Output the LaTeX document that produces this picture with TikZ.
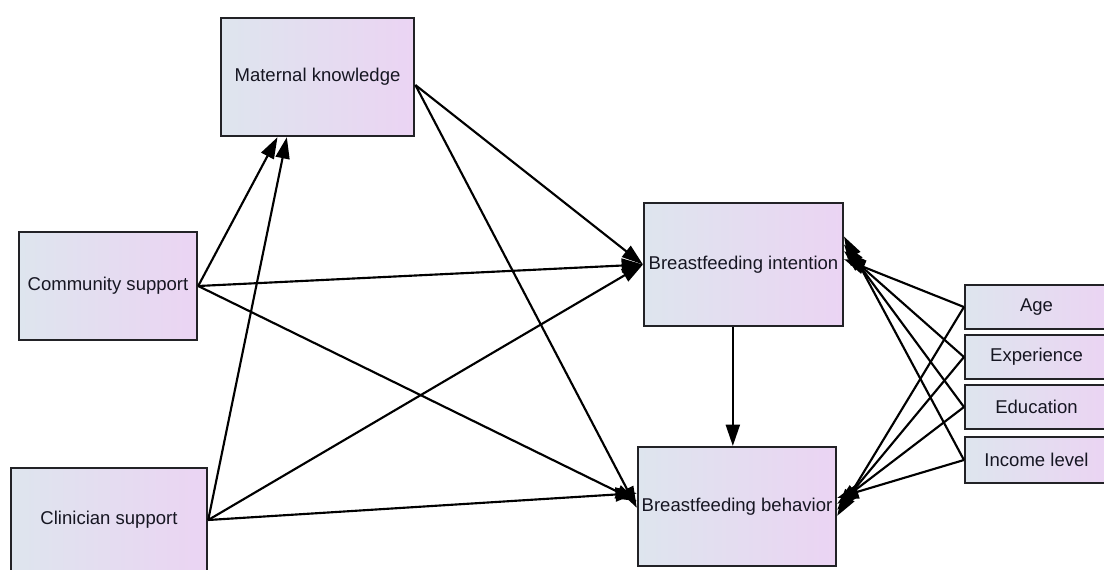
\documentclass[tikz,border=0pt]{standalone}
\usepackage{fontspec}
\setmainfont{Liberation Sans}
\usetikzlibrary{arrows.meta}

\definecolor{boxleft}{RGB}{222,229,238}
\definecolor{boxright}{RGB}{235,212,243}
\definecolor{boxline}{RGB}{34,34,38}
\definecolor{boxtext}{RGB}{22,22,34}

\tikzset{every picture/.style={line width=0.75pt}}
\tikzset{
  varbox/.style={draw=boxline, line width=1.8pt, left color=boxleft, right color=boxright,
    text=boxtext, font=\fontsize{13.9}{16}\selectfont, inner sep=0pt, anchor=center},
  covbox/.style={varbox, minimum width=107pt, minimum height=33pt},
  effect/.style={-{Triangle[length=16pt,width=10.5pt]}, line width=1.6pt, black}
}

\begin{document}
\begin{tikzpicture}[x=0.75pt,y=0.75pt,yscale=-1,xscale=1]
\useasboundingbox (0,0) rectangle (1104,569);

%Shape: Rectangle [id:mk]
\node [varbox, minimum width=145pt, minimum height=88.5pt] (mk) at (317.5,77) {Maternal knowledge};
%Shape: Rectangle [id:cs]
\node [varbox, minimum width=133.5pt, minimum height=81pt] (cs) at (108,286) {Community support};
%Shape: Rectangle [id:cl]
\node [varbox, minimum width=147pt, minimum height=78pt] (cl) at (109,520) {Clinician support};
%Shape: Rectangle [id:bi]
\node [varbox, minimum width=149pt, minimum height=92pt] (bi) at (743.5,264.5) {Breastfeeding intention};
%Shape: Rectangle [id:bb]
\node [varbox, minimum width=148.5pt, minimum height=89pt] (bb) at (737,506.5) {Breastfeeding behavior};
%Shape: Rectangle [id:age]
\node [covbox] (age) at (1036.5,307) {Age};
%Shape: Rectangle [id:exp]
\node [covbox] (exp) at (1036.5,357) {Experience};
%Shape: Rectangle [id:edu]
\node [covbox] (edu) at (1036.5,407) {Education};
%Shape: Rectangle [id:inc]
\node [covbox, minimum height=34.5pt] (inc) at (1036.5,460) {Income level};

%Straight Lines: supports to knowledge
\draw [effect] (cs.east) -- ([xshift=-30pt]mk.south);
\draw [effect] (cl.east) -- ([xshift=-23pt]mk.south);

%Straight Lines: knowledge to outcomes
\draw [effect] ([yshift=6pt]mk.east) -- (bi.west);
\draw [effect] ([yshift=6pt]mk.east) -- ([yshift=1pt]bb.west);

%Straight Lines: supports to outcomes
\draw [effect] (cs.east) -- (bi.west);
\draw [effect] (cs.east) -- ([yshift=-4pt]bb.west);
\draw [effect] (cl.east) -- (bi.west);
\draw [effect] (cl.east) -- ([yshift=-10pt]bb.west);

%Straight Lines: intention to behavior
\draw [effect] ([xshift=-8pt]bi.south) -- ([xshift=-8pt]bi.south |- bb.north);

%Straight Lines: covariates
\draw [effect] (age.west) -- ([yshift=-4pt]bi.east);
\draw [effect] (exp.west) -- ([yshift=-10pt]bi.east);
\draw [effect] (edu.west) -- ([yshift=-15pt]bi.east);
\draw [effect] (inc.west) -- ([yshift=-21pt]bi.east);
\draw [effect] (age.west) -- ([yshift=7pt]bb.east);
\draw [effect] (exp.west) -- ([yshift=2.5pt]bb.east);
\draw [effect] (edu.west) -- ([yshift=-2pt]bb.east);
\draw [effect] (inc.west) -- ([yshift=-6.5pt]bb.east);

\end{tikzpicture}
\end{document}
